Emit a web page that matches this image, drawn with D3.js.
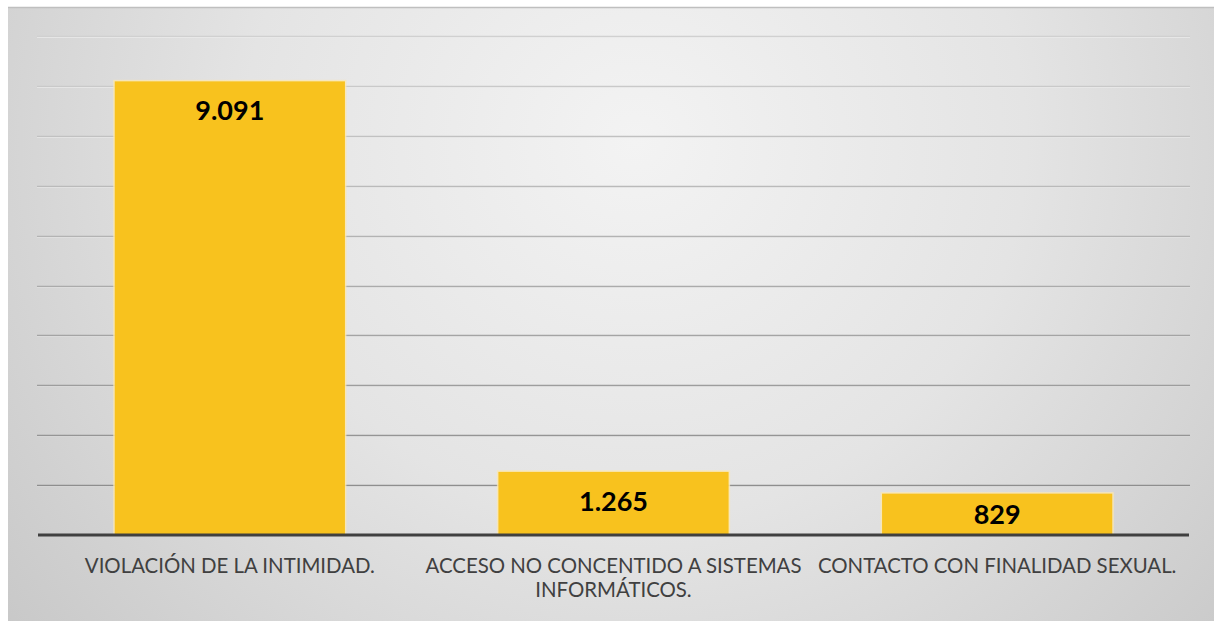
<!DOCTYPE html>
<html>
<head>
<meta charset="utf-8">
<script src="https://cdn.jsdelivr.net/npm/d3@7"></script>
<style>
  html, body { margin: 0; padding: 0; background: #ffffff; }
  svg { display: block; }
</style>
</head>
<body>
<svg id="chart" width="1214" height="621"></svg>
<script>
// Delitos informáticos por tipo
const categories = [
  ["VIOLACIÓN DE LA INTIMIDAD."],
  ["ACCESO NO CONCENTIDO A SISTEMAS", "INFORMÁTICOS."],
  ["CONTACTO CON FINALIDAD SEXUAL."]
];
const values = [9091, 1265, 829];
const valueLabels = ["9.091", "1.265", "829"];
const gridTicks = [0, 1000, 2000, 3000, 4000, 5000, 6000, 7000, 8000, 9000, 10000];

const W = 1214, H = 621;
const svg = d3.select("#chart");
const defs = svg.append("defs");

// soft radial background of the chart area
const bg = defs.append("radialGradient")
  .attr("id", "bgGrad")
  .attr("cx", "0.52").attr("cy", "0.22").attr("r", "0.72")
  .attr("gradientTransform", "translate(0.52 0.22) scale(1 1.9) translate(-0.52 -0.22)");
bg.append("stop").attr("offset", "0").attr("stop-color", "#f3f3f3");
bg.append("stop").attr("offset", "0.45").attr("stop-color", "#e4e4e4");
bg.append("stop").attr("offset", "1").attr("stop-color", "#c4c4c4");

const frame = { x: 8, y: 7, w: W - 8, h: H - 7 };
svg.append("rect")
  .attr("x", frame.x).attr("y", frame.y)
  .attr("width", frame.w).attr("height", frame.h)
  .attr("fill", "url(#bgGrad)");
svg.append("line")
  .attr("x1", frame.x).attr("x2", W)
  .attr("y1", frame.y + 0.5).attr("y2", frame.y + 0.5)
  .attr("stroke", "#bfbfbf").attr("stroke-width", 1.5);

const plot = { left: 38, right: 1189, top: 36, bottom: 535 };

const x = d3.scaleBand()
  .domain(d3.range(categories.length))
  .range([plot.left, plot.right])
  .paddingInner(0.4)
  .paddingOuter(0.2);

const y = d3.scaleLinear()
  .domain([0, 10000])
  .range([plot.bottom, plot.top]);

// gridlines, darker toward the base
const gridShade = d3.scaleLinear()
  .domain([10000, 1000])
  .range(["#d0d0d0", "#8e8e8e"]);

const grid = svg.append("g");
gridTicks.filter(t => t > 0).forEach(t => {
  const yy = Math.round(y(t));
  grid.append("line")
    .attr("x1", plot.left - 1).attr("x2", plot.right + 1)
    .attr("y1", yy + 1.5).attr("y2", yy + 1.5)
    .attr("stroke", "#f4f4f4").attr("stroke-opacity", 0.8).attr("stroke-width", 1);
  grid.append("line")
    .attr("x1", plot.left - 1).attr("x2", plot.right + 1)
    .attr("y1", yy + 0.5).attr("y2", yy + 0.5)
    .attr("stroke", gridShade(t)).attr("stroke-width", 1.5);
});

// bars
const bars = svg.append("g");
values.forEach((v, i) => {
  const bx = x(i), bw = x.bandwidth(), by = y(v), bh = y(0) - y(v);
  bars.append("rect")
    .attr("x", bx - 1.5).attr("y", by - 1.5)
    .attr("width", bw + 3).attr("height", bh + 1.5)
    .attr("fill", "#fbe7b0").attr("opacity", 0.8);
  bars.append("rect")
    .attr("x", bx).attr("y", by)
    .attr("width", bw).attr("height", bh)
    .attr("fill", "#f8c21e");
});

// axis base line
const xAxis = d3.axisBottom(x).tickSize(0).tickFormat("");
const axisG = svg.append("g")
  .attr("transform", `translate(0,${plot.bottom})`)
  .call(xAxis);
axisG.select(".domain")
  .attr("stroke", "#404040").attr("stroke-width", 3)
  .attr("d", `M${plot.left},0H${plot.right}`);

// category labels
const catG = svg.append("g");
categories.forEach((lines, i) => {
  const cx = x(i) + x.bandwidth() / 2;
  const t = catG.append("text")
    .attr("x", cx).attr("y", 573)
    .attr("text-anchor", "middle")
    .attr("font-family", "Lato, 'Open Sans', sans-serif")
    .attr("font-size", 20.4)
    .attr("fill", "#404040");
  lines.forEach((ln, k) => {
    t.append("tspan").attr("x", cx).attr("dy", k === 0 ? 0 : 24).text(ln);
  });
});

// value labels
const labG = svg.append("g");
values.forEach((v, i) => {
  const top = y(v), mid = (y(v) + y(0)) / 2;
  const cy = Math.min(top + 29, mid);
  labG.append("text")
    .attr("x", x(i) + x.bandwidth() / 2)
    .attr("y", cy)
    .attr("dy", "0.36em")
    .attr("text-anchor", "middle")
    .attr("font-family", "Lato, 'Open Sans', sans-serif")
    .attr("font-weight", "bold")
    .attr("font-size", 27)
    .attr("fill", "#000000")
    .text(valueLabels[i]);
});
</script>
</body>
</html>
